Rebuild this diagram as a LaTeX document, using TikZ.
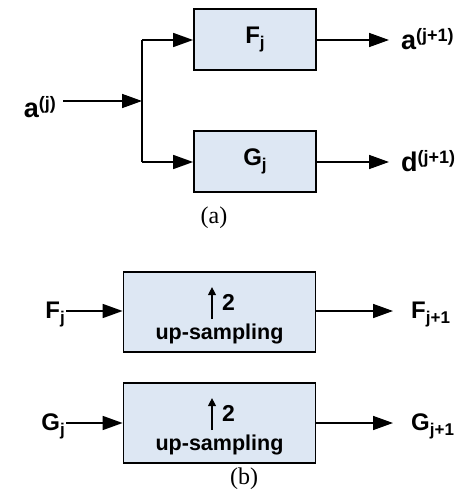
\documentclass[tikz,border=0pt]{standalone}
\usepackage{fontspec}
\setmainfont{Liberation Sans}
\newfontfamily\capfont{Liberation Serif}
\usetikzlibrary{arrows.meta,calc}
\definecolor{boxfill}{RGB}{221,231,243}
\newcommand{\bigsz}{\fontsize{27}{28}\selectfont\bfseries}
\newcommand{\supsz}{\fontsize{18}{20}\selectfont\bfseries}
\newcommand{\midsz}{\fontsize{24}{26}\selectfont\bfseries}
\newcommand{\subsz}{\fontsize{17}{18}\selectfont\bfseries}
\newcommand{\mysup}[2]{{\bigsz #1\raisebox{8pt}{\supsz #2}}}
\newcommand{\mysub}[2]{{\midsz #1\raisebox{-5pt}{\subsz #2}}}
\begin{document}
\begin{tikzpicture}[x=1pt,y=-1pt,
  blk/.style={draw=black,line width=1.8pt,fill=boxfill,inner sep=0pt},
  conn/.style={line width=1.6pt,-{Triangle[length=20pt,width=14pt]}},
  plain/.style={line width=1.6pt},
  uparr/.style={line width=1.3pt,-{Triangle[length=8pt,width=8pt]}},
  lbl/.style={inner sep=0pt},
  capt/.style={inner sep=0pt,font=\capfont\fontsize{24}{26}\selectfont}]
\useasboundingbox (0,0) rectangle (472,503);
% ---------- (a) ----------
\node[blk,minimum width=122pt,minimum height=61pt] (F) at (255,39.5) {\mysub{F}{j}};
\node[blk,minimum width=122pt,minimum height=61pt] (G) at (255,161.5) {\mysub{G}{j}};
\coordinate (J) at (142,101);
\coordinate (Jt) at (142,40);
\coordinate (Jb) at (142,162);
\node[lbl,anchor=base east] (ain) at (56,117) {\mysup{a}{(j)}};
\coordinate (ainE) at (63,101);
\draw[conn] (ainE) -- (J);
\draw[plain] (Jt) -- (Jb);
\draw[conn] (Jt) -- (Jt -| F.west);
\draw[conn] (Jb) -- (Jb -| G.west);
\coordinate (Fo) at (389,40);
\coordinate (Go) at (389,162);
\draw[conn] (F.east |- Fo) -- (Fo);
\draw[conn] (G.east |- Go) -- (Go);
\node[lbl,anchor=base west] (aout) at (401,49) {\mysup{a}{(j+1)}};
\node[lbl,anchor=base west] (dout) at (401,171) {\mysup{d}{(j+1)}};
\node[capt] (capa) at (214,218) {(a)};
% ---------- (b) ----------
\node[blk,minimum width=192pt,minimum height=80pt] (U1) at (219.5,312) {};
\node[blk,minimum width=192pt,minimum height=80pt] (U2) at (219.5,423) {};
\draw[uparr] ($(U1.north)+(-7.5,48)$) -- ++(0,-32);
\node[lbl,anchor=base] (two1) at ($(U1.north)+(9,39)$) {\fontsize{23}{24}\selectfont\bfseries 2};
\node[lbl,anchor=base] (up1) at ($(U1.north)+(0,68)$) {\fontsize{21.5}{24}\selectfont\bfseries up-sampling};
\draw[uparr] ($(U2.north)+(-7.5,48)$) -- ++(0,-32);
\node[lbl,anchor=base] (two2) at ($(U2.north)+(9,39)$) {\fontsize{23}{24}\selectfont\bfseries 2};
\node[lbl,anchor=base] (up2) at ($(U2.north)+(0,68)$) {\fontsize{21.5}{24}\selectfont\bfseries up-sampling};
\node[lbl,anchor=base east] (fin) at (65,318) {\mysub{F}{j}};
\node[lbl,anchor=base east] (gin) at (65,430) {\mysub{G}{j}};
\coordinate (fi) at (66,311);
\coordinate (gi) at (66,423);
\draw[conn] (fi) -- (fi -| U1.west);
\draw[conn] (gi) -- (gi -| U2.west);
\coordinate (fo) at (393,311);
\coordinate (go) at (393,423);
\draw[conn] (fo -| U1.east) -- (fo);
\draw[conn] (go -| U2.east) -- (go);
\node[lbl,anchor=base west] (fout) at (411,318) {\mysub{F}{j+1}};
\node[lbl,anchor=base west] (gout) at (411,430) {\mysub{G}{j+1}};
\node[capt] (capb) at (244,479) {(b)};
\end{tikzpicture}
\end{document}
